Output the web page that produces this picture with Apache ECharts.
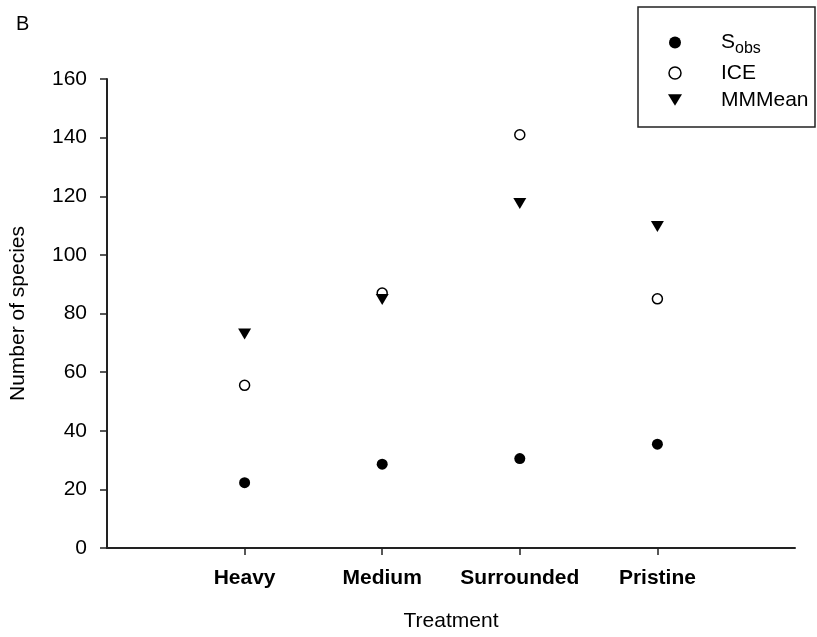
<!DOCTYPE html>
<html><head><meta charset="utf-8">
<script src="https://cdn.jsdelivr.net/npm/echarts@6/dist/echarts.min.js"></script>
<style>html,body{margin:0;padding:0;background:#fff}#c{width:817px;height:637px}</style>
</head><body><div id="c"></div>
<script>
const categories = ['', 'Heavy', 'Medium', 'Surrounded', 'Pristine', ''];
const sobs = [null, 22.3, 28.6, 30.5, 35.4, null];
const ice = [null, 55.5, 87.0, 141.0, 85.0, null];
const mmmean = [null, 73.0, 84.8, 117.5, 109.7, null];
const yTicks = [0, 20, 40, 60, 80, 100, 120, 140, 160];

const FONT = 'Liberation Sans, Arial, sans-serif';
const chart = echarts.init(document.getElementById('c'));
chart.setOption({
  animation: false,
  backgroundColor: '#fff',
  title: { text: 'B', left: 11, top: 9, textStyle: { fontFamily: FONT, fontWeight: 'normal', fontSize: 20, color: '#000' } },
  grid: { left: 107, right: 22, top: 79, bottom: 88, containLabel: false },
  xAxis: {
    type: 'category', data: categories, boundaryGap: false,
    name: 'Treatment', nameLocation: 'middle', nameGap: 63,
    nameTextStyle: { fontFamily: FONT, fontSize: 21, color: '#000' },
    axisLine: { lineStyle: { color: '#222', width: 2 } },
    axisTick: { length: 7, lineStyle: { color: '#222', width: 1.5 }, interval: (i) => i > 0 && i < categories.length - 1 },
    axisLabel: { fontFamily: FONT, fontSize: 21, fontWeight: 'bold', color: '#000', margin: 20, interval: 0 },
    splitLine: { show: false }
  },
  yAxis: {
    type: 'value', min: yTicks[0], max: yTicks[yTicks.length - 1], interval: 20,
    name: 'Number of species', nameLocation: 'middle', nameGap: 78,
    nameTextStyle: { fontFamily: FONT, fontSize: 21, color: '#000' },
    axisLine: { show: true, lineStyle: { color: '#222', width: 2 } },
    axisTick: { show: true, length: 7, lineStyle: { color: '#222', width: 1.5 } },
    axisLabel: { fontFamily: FONT, fontSize: 21, color: '#000', margin: 20 },
    splitLine: { show: false }
  },
  legend: {
    orient: 'vertical', left: 663, top: 27, itemGap: 6, itemWidth: 14, itemHeight: 12,
    textStyle: { fontFamily: FONT, fontSize: 21, color: '#000', padding: [0, 0, 0, 34],
      rich: { a: { fontFamily: FONT, fontSize: 21, color: '#000' }, b: { fontFamily: FONT, fontSize: 16, color: '#000', padding: [12, 0, 0, 0] } } },
    formatter: (n) => n === 'Sobs' ? '{a|S}{b|obs}' : n,
    data: [
      { name: 'Sobs', icon: 'circle', itemStyle: { color: '#000', opacity: 1 } },
      { name: 'ICE', icon: 'circle', itemStyle: { color: '#fff', borderColor: '#000', borderWidth: 1.5, opacity: 1 } },
      { name: 'MMMean', icon: 'path://M0,0 L12,0 L6,10 Z', itemStyle: { color: '#000', opacity: 1 } }
    ]
  },
  graphic: [{ type: 'rect', shape: { x: 638, y: 7, width: 177, height: 120 }, style: { fill: 'none', stroke: '#222', lineWidth: 1.5 }, z: 100 }],
  series: [
    { name: 'Sobs', type: 'scatter', data: sobs, symbol: 'circle', symbolSize: 11, itemStyle: { color: '#000', opacity: 1 } },
    { name: 'ICE', type: 'scatter', data: ice, symbol: 'circle', symbolSize: 10, itemStyle: { color: '#fff', borderColor: '#000', borderWidth: 1.5, opacity: 1 } },
    { name: 'MMMean', type: 'scatter', data: mmmean, symbol: 'path://M0,0 L12,0 L6,10 Z', symbolSize: [13, 11], itemStyle: { color: '#000', opacity: 1 } }
  ]
});
</script></body></html>
